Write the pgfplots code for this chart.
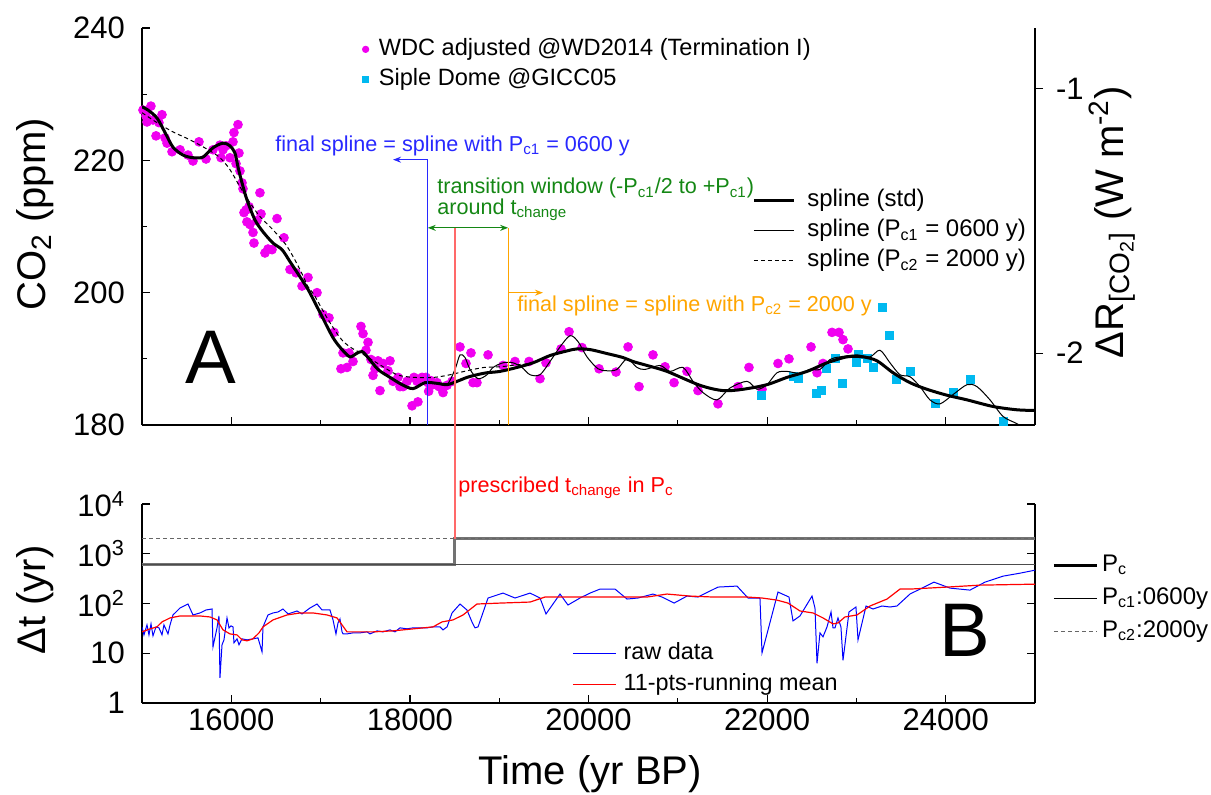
\documentclass[border=0pt]{standalone}
\usepackage{fontspec}
\setmainfont{Liberation Sans}
\usepackage{pgfplots}
\pgfplotsset{compat=1.18}
\usetikzlibrary{arrows.meta}

\definecolor{wdc}{RGB}{240,0,240}
\definecolor{siple}{RGB}{0,185,240}
\definecolor{ablue}{RGB}{40,40,255}
\definecolor{agreen}{RGB}{20,135,20}
\definecolor{aorange}{RGB}{255,165,0}
\definecolor{ared}{RGB}{255,105,105}

\newcommand{\fs}[1]{\fontsize{#1}{#1}\selectfont}

\begin{document}
\begin{tikzpicture}
\useasboundingbox (0,0) rectangle (605.5pt,-397pt);
\pgfplotsset{
  base/.style={scale only axis, width=446.5pt, xmin=15000, xmax=25000,
    scaled x ticks=false,
    axis line style={line width=0.8pt}, major tick length=4pt, minor tick length=2.5pt,
    every tick/.style={black, line width=0.6pt},
    tick label style={font=\fs{15.5}}, label style={font=\fs{20}},
    clip mode=individual},
  toppanel/.style={base, at={(71pt,-212.5pt)}, anchor=south west, height=198.5pt},
  botpanel/.style={base, at={(71pt,-351.5pt)}, anchor=south west, height=99.5pt},
}

% ---------- panel A: data points ----------
\begin{axis}[toppanel, ymin=180, ymax=240,
  axis x line*=bottom, axis y line*=left, tick align=inside,
  xtick={16000,18000,20000,22000,24000}, xticklabels={}, minor x tick num=1,
  ytick={180,200,220,240}, yticklabels={180,200,220,240}, minor y tick num=1,
  yticklabel style={xshift=-5pt},
  ylabel={CO\textsubscript{2} (ppm)},
  ylabel style={at={(rel axis cs:-0.12,0.531)}, anchor=center},
  legend style={at={(0.2464,0.98)}, anchor=north west, draw=none, fill=none,
    inner sep=0pt, font=\fs{11.8}, row sep=2pt,
    nodes={inner sep=1pt, text height=8.5pt, text depth=2.5pt},
    /tikz/every odd column/.append style={column sep=4pt}},
  legend cell align=left,
  legend image code/.code={\draw[mark repeat=2,mark phase=2,#1,mark size=1.6pt]
     plot coordinates {(0pt,0pt) (4pt,0pt) (10pt,0pt)};},
]
\addplot[only marks, mark=*, mark size=2.2pt, draw=wdc, fill=wdc] coordinates {
(15011,227.6) (15045,226.7) (15056,225.8) (15100,228.2) (15123,226.1) (15157,223.7)
(15190,225.7) (15224,226.9) (15258,223.4) (15280,222.6) (15336,221.3) (15426,221.6)
(15515,220.8) (15571,219.9) (15638,222.8) (15717,220.2) (15795,221.6) (15873,222.3)
(15885,220.4) (15907,221.6) (15941,222.2) (15985,220.4) (16019,222.8) (16030,224.2)
(16053,219.5) (16075,225.4) (16086,221.1) (16097,218.4) (16120,216.6) (16131,215.7)
(16142,212.1) (16165,212.5) (16175,210.7) (16198,213.0) (16209,210.3) (16243,209.1)
(16254,207.5) (16288,210.9) (16321,215.1) (16333,211.9) (16377,206.0) (16411,206.6)
(16456,206.5) (16512,211.2) (16590,208.3) (16657,203.5) (16725,203.0) (16792,201.0)
(16859,202.3) (16960,200.0) (17027,196.7) (17094,196.2) (17150,194.0) (17228,188.5)
(17251,190.9) (17296,188.7) (17318,190.9) (17363,189.6) (17452,194.9) (17475,193.8)
(17508,191.3) (17531,192.5) (17564,189.9) (17587,187.5) (17609,188.5) (17643,189.7)
(17665,185.2) (17699,189.3) (17755,188.2) (17777,189.7) (17811,186.6) (17867,187.2)
(17889,185.8) (17923,185.8) (17968,186.6) (18024,182.9) (18046,187.2) (18080,186.6)
(18090,183.5) (18136,187.2) (18180,187.2) (18203,186.4) (18210,185.1) (18236,186.7)
(18259,186.1) (18304,186.4) (18326,185.8) (18360,185.5) (18371,184.9) (18416,186.0)
(18472,186.6) (18561,191.8) (18628,189.3) (18684,190.9) (18707,186.4) (18751,186.4)
(18875,190.6) (19043,189.0) (19177,189.6) (19334,189.6) (19457,187.0) (19524,189.4)
(19692,191.5) (19782,194.1) (19927,191.7) (20118,188.5) (20308,188.0) (20443,191.8)
(20566,185.8) (20722,190.6) (20857,188.8) (20958,186.4) (21103,188.1) (21226,185.2)
(21450,183.2) (21674,185.8) (21797,188.7) (21943,185.4) (22122,189.3) (22245,190.0)
(22492,191.8) (22559,187.9) (22626,189.3) (22727,194.0) (22805,194.0) (22850,192.9)
(22906,191.5)
};
\addlegendentry{WDC adjusted @WD2014 (Termination I)}
\addplot[only marks, mark=square*, mark size=2pt, draw=siple, fill=siple] coordinates {
(21932,184.5) (22290,187.3) (22346,187.0) (22548,184.8) (22604,185.2) (22660,188.5)
(22760,190.0) (22839,186.3) (22996,189.4) (23018,190.6) (23119,190.0) (23186,188.7)
(23287,197.7) (23365,193.5) (23443,186.9) (23600,188.1) (23880,183.2) (24082,184.9)
(24272,186.9) (24642,180.5)
};
\addlegendentry{Siple Dome @GICC05}
\end{axis}

% ---------- panel A: right forcing axis ----------
\begin{axis}[toppanel, ymin=-2.272, ymax=-0.770,
  axis y line*=right, axis x line=none, tick align=outside,
  ytick={-2,-1}, yticklabels={-2,-1}, yticklabel style={xshift=3pt},
  ylabel={ΔR\textsubscript{[CO\textsubscript{2}]} (W m\textsuperscript{-2})},
  ylabel style={at={(rel axis cs:1.086,0.511)}, anchor=center}]
\end{axis}

% ---------- panel A: splines and annotations ----------
\begin{axis}[toppanel, ymin=180, ymax=240, hide axis,
  legend style={at={(0.683,0.602)}, anchor=north west, draw=none, fill=none,
    inner sep=0pt, font=\fs{12}, row sep=1pt,
    nodes={inner sep=1pt, text height=9pt, text depth=3pt},
    /tikz/every odd column/.append style={column sep=5pt}},
  legend cell align=left,
  legend image code/.code={\draw[#1] (0pt,0pt) -- (20pt,0pt);}]
\addplot[black, line width=1.5pt, smooth] coordinates {
(15000,228.1) (15067,227.6) (15168,226.4) (15258,224.2) (15347,222.0) (15459,220.8)
(15571,220.4) (15683,220.5) (15795,221.9) (15907,222.6) (15985,222.2) (16041,221.1)
(16075,219.0) (16120,216.6) (16176,214.0) (16265,211.0) (16355,209.2) (16467,207.5)
(16568,206.5) (16657,204.7) (16769,202.4) (16859,200.5) (16940,198.4) (17016,196.4)
(17139,193.2) (17240,191.4) (17329,190.3) (17400,190.8) (17464,191.1) (17531,190.2)
(17643,188.4) (17777,187.2) (17912,186.1) (18035,185.5) (18169,186.4) (18304,186.3)
(18416,186.1) (18528,186.6) (18640,187.2) (18752,187.6) (18864,187.9) (19009,188.1)
(19199,188.7) (19379,189.4) (19569,190.5) (19759,191.2) (19871,191.5) (20017,191.4)
(20207,190.8) (20386,190.2) (20498,189.6) (20655,189.0) (20879,188.1) (21249,186.0)
(21507,185.2) (21730,185.4) (21999,186.1) (22223,187.2) (22447,188.1) (22671,189.4)
(22895,190.3) (23074,190.3) (23231,189.7) (23410,187.9) (23600,186.4) (23790,185.4)
(24015,184.5) (24239,183.8) (24530,182.8) (24798,182.3) (25000,182.2)
};
\addlegendentry{spline (std)}
\addplot[black, line width=0.5pt, smooth] coordinates {
(15000,228.1) (15067,227.6) (15168,226.4) (15258,224.2) (15347,222.0) (15459,220.8)
(15571,220.4) (15683,220.5) (15795,221.9) (15907,222.6) (15985,222.2) (16041,221.1)
(16075,219.0) (16120,216.6) (16176,214.0) (16265,211.0) (16355,209.2) (16467,207.5)
(16568,206.5) (16657,204.7) (16769,202.4) (16859,200.5) (16940,198.4) (17016,196.4)
(17139,193.2) (17240,191.4) (17329,190.3) (17400,190.8) (17464,191.1) (17531,190.2)
(17643,188.4) (17777,187.2) (17912,186.1) (18035,185.5) (18169,186.4) (18304,186.3)
(18416,186.1) (18505,188.4) (18561,190.6) (18617,190.2) (18673,188.4) (18763,187.0)
(18864,187.6) (18931,188.7) (19043,189.4) (19155,189.4) (19255,188.7) (19345,187.6)
(19457,187.6) (19569,189.6) (19681,191.8) (19793,193.5) (19883,192.6) (19983,190.3)
(20106,188.5) (20207,188.2) (20319,188.4) (20431,190.0) (20543,188.7) (20633,188.4)
(20801,189.0) (20913,188.1) (21058,188.7) (21170,186.6) (21282,184.9) (21439,183.8)
(21585,185.6) (21775,186.6) (21887,185.4) (21999,186.1) (22111,187.9) (22223,188.1)
(22369,187.8) (22480,188.4) (22592,188.4) (22704,189.9) (22816,190.3) (23007,190.6)
(23152,190.3) (23264,191.3) (23376,189.4) (23488,187.6) (23600,187.3) (23712,185.8)
(23824,183.8) (23936,183.2) (24082,184.6) (24239,186.1) (24350,185.8) (24496,183.8)
(24642,181.3) (24798,180.2) (24944,179.0) (25000,178.6)
};
\addlegendentry{spline (P\textsubscript{c1} = 0600 y)}
\addplot[black, line width=0.5pt, dash pattern=on 2pt off 1.5pt, smooth] coordinates {
(15000,227.2) (15168,225.7) (15347,224.3) (15538,223.1) (15728,221.7) (15873,220.4)
(15985,218.6) (16097,216.0) (16209,213.6) (16321,211.5) (16467,209.5) (16624,207.0)
(16769,203.5) (16859,200.9) (16926,199.7) (17072,196.2) (17217,193.2) (17329,191.8)
(17486,190.6) (17665,189.1) (17856,187.6) (18046,187.2) (18270,187.2) (18450,187.6)
(18640,188.2) (18830,188.7) (19010,188.8) (19200,189.1) (19379,189.4) (19569,190.5)
(19759,191.2) (19871,191.5) (20017,191.4) (20207,190.8) (20386,190.2) (20498,189.6)
(20655,189.0) (20879,188.1) (21249,186.0) (21507,185.2) (21730,185.4) (21999,186.1)
(22223,187.2) (22447,188.1) (22671,189.4) (22895,190.3) (23074,190.3) (23231,189.7)
(23410,187.9) (23600,186.4) (23790,185.4) (24015,184.5) (24239,183.8) (24530,182.8)
(24798,182.3) (25000,182.2)
};
\addlegendentry{spline (P\textsubscript{c2} = 2000 y)}

\draw[ablue, line width=0.7pt, -{Stealth[length=4pt,width=3pt]}]
  (axis cs:18200,180) -- (axis cs:18200,220.1) -- (axis cs:17811,220.1);
\draw[aorange, line width=0.6pt] (axis cs:19100,180) -- (axis cs:19100,209.8);
\draw[aorange, line width=0.6pt, -{Stealth[length=4pt,width=3pt]}]
  (axis cs:19100,200) -- (axis cs:19490,200);
\draw[agreen, line width=0.6pt, {Stealth[length=4pt,width=3pt]}-{Stealth[length=4pt,width=3pt]}]
  (axis cs:18200,209.8) -- (axis cs:19100,209.8);
\coordinate (rtop) at (axis cs:18500,209.8);

\node[anchor=west, text=ablue, font=\fs{10.8}, inner sep=0pt] at (axis cs:16489,222.2)
  {final spline = spline with P\textsubscript{c1} = 0600 y};
\node[anchor=west, text=agreen, font=\fs{10.8}, inner sep=0pt] at (axis cs:18303,215.8)
  {transition window (-P\textsubscript{c1}/2 to +P\textsubscript{c1})};
\node[anchor=west, text=agreen, font=\fs{10.8}, inner sep=0pt] at (axis cs:18303,212.5)
  {around t\textsubscript{change}};
\node[anchor=west, text=aorange, font=\fs{10.8}, inner sep=0pt] at (axis cs:19199,198.0)
  {final spline = spline with P\textsubscript{c2} = 2000 y};
\node[font=\fs{38}, inner sep=0pt] at (axis cs:15773,190.2) {A};
\end{axis}

% ---------- panel B: cut-off periods ----------
\begin{axis}[botpanel, ymode=log, ymin=1, ymax=10000,
  axis x line*=bottom, axis y line*=box, tick align=inside,
  ytick={1,10,100,1000,10000},
  yticklabels={1,10,10\textsuperscript{2},10\textsuperscript{3},10\textsuperscript{4}},
  yticklabel pos=left, yminorticks=false,
  xtick={16000,18000,20000,22000,24000},
  xticklabels={16000,18000,20000,22000,24000}, minor x tick num=1,
  xticklabel style={yshift=0.5pt}, yticklabel style={xshift=-5pt},
  xlabel={Time (yr BP)},
  xlabel style={at={(rel axis cs:0.502,-0.357)}, anchor=center},
  ylabel={Δt (yr)},
  ylabel style={at={(rel axis cs:-0.12,0.518)}, anchor=center},
  legend style={at={(1.019,0.764)}, anchor=north west, draw=none, fill=none,
    inner sep=0pt, font=\fs{12}, row sep=2.5pt,
    nodes={inner sep=1pt, text height=9pt, text depth=3pt},
    /tikz/every odd column/.append style={column sep=1pt}},
  legend cell align=left,
  legend image code/.code={\draw[#1] (0pt,0pt) -- (21.5pt,0pt);}]
\addlegendimage{black, line width=1.4pt}
\addlegendentry{P\textsubscript{c}}
\addlegendimage{black, line width=0.5pt}
\addlegendentry{P\textsubscript{c1}:0600y}
\addlegendimage{black!60, line width=0.5pt, dash pattern=on 2pt off 1.5pt}
\addlegendentry{P\textsubscript{c2}:2000y}
\addplot[forget plot, black!55, line width=1.4pt] coordinates {
(15000,600) (18500,600) (18500,2000) (25000,2000)};
\addplot[forget plot, black!70, line width=0.5pt] coordinates {(15000,600) (25000,600)};
\addplot[forget plot, black!60, line width=0.5pt, dash pattern=on 2pt off 1.5pt] coordinates {(15000,2000) (25000,2000)};
\end{axis}

% ---------- panel B: sampling intervals ----------
\begin{axis}[botpanel, ymode=log, ymin=1, ymax=10000, hide axis,
  legend style={at={(0.4815,0.317)}, anchor=north west, draw=none, fill=none,
    inner sep=0pt, font=\fs{11.7}, row sep=2.5pt,
    nodes={inner sep=1pt, text height=8.5pt, text depth=2.5pt},
    /tikz/every odd column/.append style={column sep=2.5pt}},
  legend cell align=left,
  legend image code/.code={\draw[#1] (0pt,0pt) -- (21.5pt,0pt);}]
\addplot[blue, line width=0.5pt] coordinates {
(15000,33.9) (15022,23.4) (15056,37.2) (15078,23.4) (15101,38.9) (15123,22.4)
(15157,33.9) (15190,32.4) (15224,23.4) (15246,37.2) (15291,24.5) (15314,37.2)
(15347,58.9) (15426,81.3) (15515,97.7) (15571,58.9) (15649,64.6) (15717,74.1)
(15784,77.6) (15795,13.5) (15840,32.4) (15862,56.2) (15873,3.2) (15896,14.8)
(15918,18.6) (15952,51.3) (15974,32.4) (15997,35.5) (16019,33.9) (16030,16.2)
(16064,19.5) (16086,14.8) (16120,19.5) (16176,18.6) (16243,19.5) (16299,20.4)
(16344,10.7) (16355,33.9) (16411,58.9) (16467,64.6) (16523,67.6) (16579,77.6)
(16635,61.7) (16736,70.8) (16792,61.7) (16881,81.3) (16960,97.7) (17016,74.1)
(17105,74.1) (17139,46.8) (17172,24.5) (17195,40.7) (17217,49.0) (17240,26.9)
(17251,24.5) (17296,24.5) (17363,25.7) (17441,25.7) (17520,26.9) (17553,24.5)
(17632,28.2) (17699,26.9) (17777,29.5) (17833,26.9) (17889,32.4) (17968,31.0)
(18035,32.4) (18113,32.4) (18191,32.4) (18259,33.9) (18337,33.9) (18371,29.5)
(18416,33.9) (18472,64.6) (18561,97.7) (18639,74.1) (18695,42.7) (18729,32.4)
(18763,33.9) (18875,129) (19009,155) (19043,162) (19177,129) (19345,162)
(19457,129) (19524,61.7) (19681,155) (19770,93.3) (19905,129) (20017,162)
(20129,195) (20297,195) (20431,123) (20554,129) (20722,155) (20823,135)
(20958,102) (21103,141) (21226,135) (21450,214) (21663,224) (21786,129)
(21920,129) (21943,10.2) (22122,170) (22245,135) (22290,44.7) (22368,56.2)
(22503,141) (22536,81.3) (22559,6.3) (22592,25.7) (22626,21.4) (22671,33.9)
(22716,67.6) (22738,32.4) (22760,32.4) (22794,51.3) (22827,33.9) (22850,7.2)
(22917,67.6) (22995,85.1) (23018,18.6) (23108,89.1) (23186,77.6) (23287,89.1)
(23376,85.1) (23454,89.1) (23600,155) (23869,269) (24048,204) (24272,186)
(24440,269) (24642,355) (24832,407) (25000,468)
};
\addlegendentry{raw data}
\addplot[red, line width=0.6pt] coordinates {
(15000,26.9) (15090,30.9) (15168,33.9) (15224,42.7) (15314,51.3) (15426,56.2)
(15537,56.2) (15649,56.2) (15761,53.7) (15840,46.8) (15907,29.5) (15985,24.5)
(16064,23.4) (16120,18.6) (16176,17.8) (16243,19.5) (16310,25.7) (16355,33.9)
(16467,46.8) (16624,58.9) (16769,64.6) (16915,64.6) (17072,58.9) (17184,51.3)
(17296,26.9) (17408,26.9) (17587,26.9) (17811,28.2) (18035,30.9) (18259,33.9)
(18360,42.7) (18483,46.8) (18595,58.9) (18751,97.7) (19009,102) (19345,107)
(19513,135) (20017,135) (20274,135) (20655,135) (20879,155) (21137,141)
(21394,135) (21775,135) (21943,129) (22111,117) (22234,102) (22368,70.8)
(22514,64.6) (22626,51.3) (22738,38.9) (22794,40.7) (22872,53.7) (23007,58.9)
(23152,89.1) (23343,123) (23488,195) (23600,195) (24015,214) (24384,234)
(25000,245)
};
\addlegendentry{11-pts-running mean}
\coordinate (rbot) at (axis cs:18500,2000);
\node[anchor=west, text=red, font=\fs{10.8}, inner sep=0pt] at (axis cs:18539,20980)
  {prescribed t\textsubscript{change} in P\textsubscript{c}};
\node[font=\fs{38}, inner sep=0pt] at (axis cs:24216,29.3) {B};
\end{axis}

\draw[ared, line width=1pt] (rtop) -- (rbot);
\end{tikzpicture}
\end{document}
